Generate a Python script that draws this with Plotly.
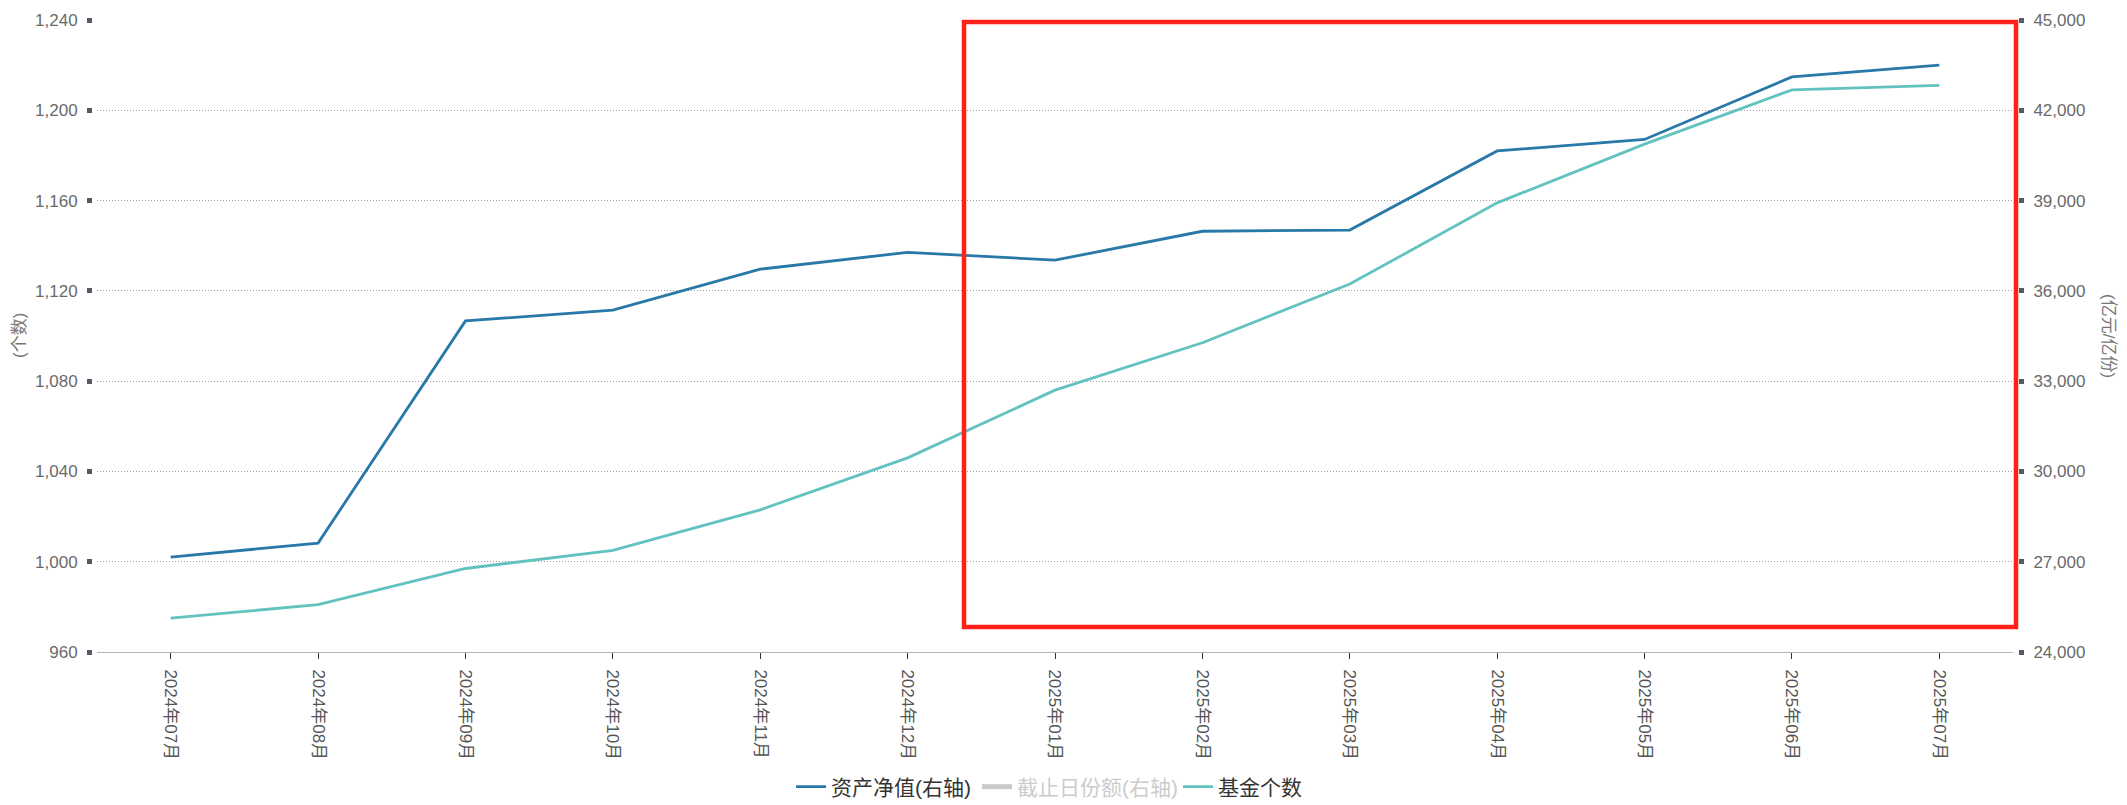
import plotly.graph_objects as go

months = ["2024年07月", "2024年08月", "2024年09月", "2024年10月", "2024年11月", "2024年12月",
          "2025年01月", "2025年02月", "2025年03月", "2025年04月", "2025年05月", "2025年06月", "2025年07月"]
net_assets = [27150, 27620, 35000, 35360, 36720, 37280, 37020, 37980, 38020, 40650, 41030, 43110, 43500]
shares = [None] * len(months)  # hidden series (legend only, values not shown)
fund_count = [975, 981, 997, 1005, 1023, 1046, 1076, 1097, 1123, 1159, 1185, 1209, 1211]

# page has an 8px body margin; the figure is sized to fit the window
OFF = 8
W, H = 2127 - OFF, 805 - OFF
# paper box in page coordinates
PAPER_L, PAPER_R, PAPER_T, PAPER_B = 85, 2025, 20, 652
ML = PAPER_L - OFF
MR = W - (PAPER_R - OFF)
MT = PAPER_T - OFF
MB = H - (PAPER_B - OFF)
PW = PAPER_R - PAPER_L
PH = PAPER_B - PAPER_T
PLOT_L, PLOT_R = 97, 2013


def px(x):
    return (x - PAPER_L) / PW


def py(y):
    return (PAPER_B - y) / PH


FONT = "Liberation Sans, Arial, Noto Sans CJK SC, sans-serif"

fig = go.Figure()
fig.add_trace(go.Scatter(x=months, y=net_assets, name="资产净值(右轴)", mode="lines",
                         line=dict(color="#2878a8", width=2.8), yaxis="y2", legend="legend"))
fig.add_trace(go.Scatter(x=months, y=shares, name="截止日份额(右轴)", mode="lines",
                         line=dict(color="#999999", width=5), yaxis="y2", visible="legendonly",
                         legend="legend2"))
fig.add_trace(go.Scatter(x=months, y=fund_count, name="基金个数", mode="lines",
                         line=dict(color="#62c2c0", width=2.8), yaxis="y", legend="legend3"))

tickfont = dict(family=FONT, size=17, color="#6a6a6a")

fig.update_layout(
    width=W, height=H,
    margin=dict(l=ML, r=MR, t=MT, b=MB, autoexpand=False),
    paper_bgcolor="white", plot_bgcolor="white",
    font=dict(family=FONT),
    xaxis=dict(domain=[px(PLOT_L), px(PLOT_R)], type="category", range=[-0.5, len(months) - 0.5],
               showgrid=False, automargin=False,
               showline=True, linecolor="#b5b5b5", linewidth=1,
               ticks="outside", ticklen=6, tickwidth=1, tickcolor="#333333",
               tickangle=90, tickfont=dict(family=FONT, size=17, color="#555555"),
               ticklabelstandoff=7, zeroline=False),
    yaxis=dict(range=[960, 1240], dtick=40, tickformat=",d", anchor="free", position=px(92),
               showgrid=True, gridcolor="#a0a0a0", griddash="1px,2px", gridwidth=1,
               showline=False, zeroline=False, automargin=False,
               ticks="outside", ticklen=5, tickwidth=5, tickcolor="#555b66",
               tickfont=tickfont, ticklabelstandoff=6),
    yaxis2=dict(range=[24000, 45000], dtick=3000, tickformat=",d", overlaying="y", side="right",
                anchor="free", position=px(2018), automargin=False,
                showgrid=False, showline=False, zeroline=False,
                ticks="outside", ticklen=5, tickwidth=5, tickcolor="#555b66",
                tickfont=tickfont, ticklabelstandoff=6),
    legend=dict(x=px(791), y=py(787), xanchor="left", yanchor="middle", orientation="h",
                font=dict(family=FONT, size=21, color="#333333"), itemwidth=30,
                bgcolor="rgba(0,0,0,0)"),
    legend2=dict(x=px(977), y=py(787), xanchor="left", yanchor="middle", orientation="h",
                 font=dict(family=FONT, size=21, color="#999999"), itemwidth=30,
                 bgcolor="rgba(0,0,0,0)"),
    legend3=dict(x=px(1178), y=py(787), xanchor="left", yanchor="middle", orientation="h",
                 font=dict(family=FONT, size=21, color="#333333"), itemwidth=30,
                 bgcolor="rgba(0,0,0,0)"),
    showlegend=True,
)

fig.add_annotation(text="(个数)", xref="paper", yref="paper", x=px(19), y=py(336),
                   textangle=-90, showarrow=False, xanchor="center", yanchor="middle",
                   font=dict(family=FONT, size=17, color="#777777"))
fig.add_annotation(text="(亿元/亿份)", xref="paper", yref="paper", x=px(2109), y=py(336),
                   textangle=90, showarrow=False, xanchor="center", yanchor="middle",
                   font=dict(family=FONT, size=17, color="#777777"))

fig.add_shape(type="rect", xref="paper", yref="paper",
              x0=px(964), x1=px(2016), y0=py(627), y1=py(22),
              line=dict(color="#ff2018", width=4.5), fillcolor="rgba(0,0,0,0)")

fig.write_html("out.html")
